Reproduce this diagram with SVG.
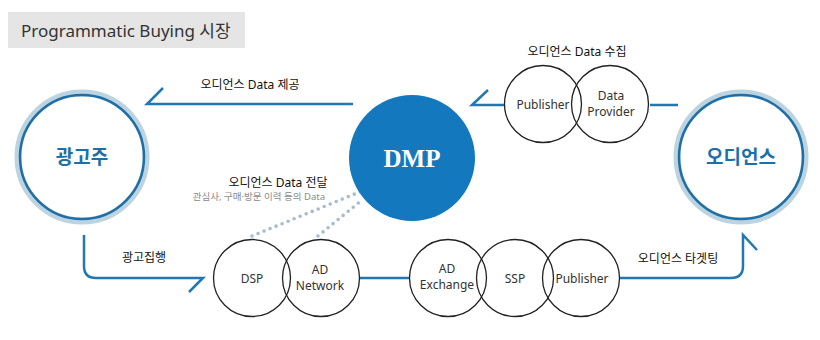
<svg xmlns="http://www.w3.org/2000/svg" width="820" height="340" viewBox="0 0 820 340">
<style>
.lbl{font-family:"Noto Sans","Noto Sans CJK KR",sans-serif;font-size:12px;fill:#111;font-weight:400;text-anchor:middle}
.sub{font-family:"Noto Sans","Noto Sans CJK KR",sans-serif;font-size:9.5px;fill:#8a8a8a;text-anchor:end}
.nd{font-family:"Noto Sans","Noto Sans CJK KR",sans-serif;font-size:12px;fill:#333;text-anchor:middle}
.ring{fill:none;stroke:#222;stroke-width:1.3}
.big{font-family:"Noto Sans CJK KR","Noto Sans",sans-serif;font-size:19px;font-weight:700;fill:#1d6fa8;text-anchor:middle}
.halo{fill:#fff;stroke:#bcd3e0;stroke-width:7}
.core{fill:none;stroke:#1f6fa6;stroke-width:2.5}
.conn{fill:none;stroke:#2277b0;stroke-width:2.5;stroke-linejoin:miter}
.dot{fill:none;stroke:#a8bccb;stroke-width:3.6;stroke-linecap:round;stroke-dasharray:0 6.5}
</style>
<rect width="820" height="340" fill="#fff"/>
<g id="title">
<rect x="8" y="12" width="237" height="36" fill="#e5e5e5"/>
<text x="21" y="37" font-family="Noto Sans, Noto Sans CJK KR, sans-serif" font-size="17" fill="#333">Programmatic Buying 시장</text>
</g>
<g id="connectors">
<path class="conn" d="M353,104 H147 L163,88"/>
<path class="conn" d="M678,105 H650"/>
<path class="conn" d="M505,105 H472 L488,90"/>
<path class="conn" d="M84,235 V266 Q84,278 96,278 H203 L189,292"/>
<path class="conn" d="M360,278 H410"/>
<path class="conn" d="M620,278 H731 Q743,278 743,266 V235 L757,250"/>
<path class="dot" d="M252,236 L362,191"/>
<path class="dot" d="M318,236 L362,200"/>
</g>
<g id="labels">
<text class="lbl" x="250" y="89">오디언스 Data 제공</text>
<text class="lbl" x="577" y="56">오디언스 Data 수집</text>
<text class="lbl" x="278" y="187">오디언스 Data 전달</text>
<text class="sub" x="325" y="200">관심사, 구매·방문 이력 등의 Data</text>
<text class="lbl" x="144" y="262">광고집행</text>
<text class="lbl" x="678" y="263">오디언스 타겟팅</text>
</g>
<g id="advertiser">
<circle class="halo" cx="82" cy="157" r="64"/>
<circle class="core" cx="82" cy="157" r="62"/>
<text class="big" x="82" y="164">광고주</text>
</g>
<g id="audience">
<circle class="halo" cx="741" cy="157" r="64"/>
<circle class="core" cx="741" cy="157" r="62"/>
<text class="big" x="741" y="164">오디언스</text>
</g>
<g id="dmp">
<circle cx="412" cy="158" r="63" fill="#1378bd"/>
<text x="412" y="167" font-family="Liberation Serif, serif" font-weight="700" font-size="25" fill="#fff" text-anchor="middle">DMP</text>
</g>
<g id="publisher-top">
<circle class="ring" cx="543" cy="104" r="38.5"/>
<text class="nd" x="543" y="109">Publisher</text>
</g>
<g id="data-provider">
<circle class="ring" cx="610" cy="104" r="38.5"/>
<text class="nd" x="611" y="100">Data</text>
<text class="nd" x="611" y="116">Provider</text>
</g>
<g id="dsp">
<circle class="ring" cx="252" cy="278" r="38.5"/>
<text class="nd" x="252" y="283">DSP</text>
</g>
<g id="ad-network">
<circle class="ring" cx="321" cy="278" r="38.5"/>
<text class="nd" x="320" y="274">AD</text>
<text class="nd" x="320" y="290">Network</text>
</g>
<g id="ad-exchange">
<circle class="ring" cx="448" cy="278" r="38.5"/>
<text class="nd" x="447" y="273">AD</text>
<text class="nd" x="447" y="289">Exchange</text>
</g>
<g id="ssp">
<circle class="ring" cx="515" cy="278" r="38.5"/>
<text class="nd" x="515" y="283">SSP</text>
</g>
<g id="publisher-bottom">
<circle class="ring" cx="581" cy="278" r="38.5"/>
<text class="nd" x="582" y="283">Publisher</text>
</g>
</svg>
